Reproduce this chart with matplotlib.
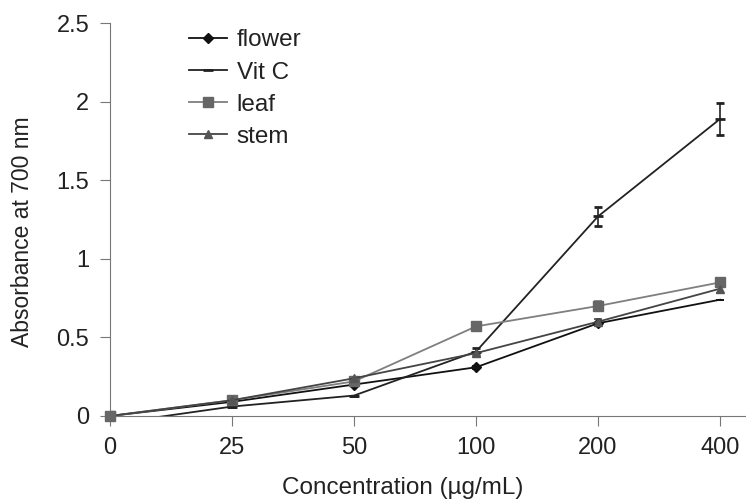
import numpy as np
import matplotlib
matplotlib.use("Agg")
import matplotlib.pyplot as plt
from matplotlib.lines import Line2D

plt.rcParams.update({"font.family": "Liberation Sans", "font.size": 16})

conc = ["0", "25", "50", "100", "200", "400"]
flower = [0.0, 0.09, 0.20, 0.31, 0.59, 0.74]
flower_err = [0.0, 0.0, 0.0, 0.01, 0.0, 0.0]
vitc = [-0.05, 0.06, 0.13, 0.41, 1.27, 1.89]
vitc_err = [0.0, 0.0, 0.0, 0.02, 0.06, 0.10]
leaf = [0.0, 0.10, 0.22, 0.57, 0.70, 0.85]
leaf_err = [0.0, 0.0, 0.0, 0.0, 0.03, 0.03]
stem = [0.0, 0.10, 0.24, 0.40, 0.60, 0.81]
stem_err = [0.0, 0.0, 0.0, 0.0, 0.02, 0.03]

x = np.arange(len(conc))
fig = plt.figure(figsize=(7.46, 5.03), dpi=100)
ax = fig.add_axes([0.1475, 0.173, 0.852, 0.781])

style = dict(capsize=3, elinewidth=1.2, capthick=1.2, lw=1.3)
series = [
    ("flower", flower, flower_err, dict(color="#111111", marker="D", ms=5,
                                        markevery=[0, 1, 2, 3, 4])),
    ("Vit C", vitc, vitc_err, dict(color="#222222", marker="_", ms=7, mew=2)),
    ("leaf", leaf, leaf_err, dict(color="#7f7f7f", marker="s", ms=7,
                                  mfc="#666666", mec="#666666")),
    ("stem", stem, stem_err, dict(color="#444444", marker="^", ms=6,
                                  mfc="#555555", mec="#555555")),
]
handles = []
for name, vals, err, kw in series:
    ax.errorbar(x, vals, yerr=err, **kw, **style)
    kw2 = {k: v for k, v in kw.items() if k != "markevery"}
    handles.append(Line2D([], [], lw=1.3, label=name, **kw2))
# marker at the origin sits on the axis
ax.plot([0], [0], marker="s", ms=7, color="#666666", clip_on=False, zorder=5)

ax.set_xlim(0, 5.21)
ax.set_ylim(0, 2.5)
ax.set_xticks(x)
ax.set_xticklabels(conc)
ax.set_yticks([0, 0.5, 1, 1.5, 2, 2.5])
ax.set_yticklabels(["0", "0.5", "1", "1.5", "2", "2.5"])
for s in ["top", "right"]:
    ax.spines[s].set_visible(False)
for s in ["left", "bottom"]:
    ax.spines[s].set_color("#777777")
ax.tick_params(direction="out", length=7, color="#777777", labelcolor="#222222",
               labelsize=17, pad=8)
ax.set_xlabel("Concentration (µg/mL)", color="#222222", fontsize=17.5)
ax.set_ylabel("Absorbance at 700 nm", color="#222222", fontsize=16.5)
ax.xaxis.set_label_coords(0.46, -0.155)
ax.yaxis.set_label_coords(-0.12, 0.468)

leg = ax.legend(handles=handles, loc="upper left", bbox_to_anchor=(0.09, 1.04),
                frameon=False, handlelength=1.55, handletextpad=0.4,
                labelspacing=0.42, fontsize=17.5)
for t in leg.get_texts():
    t.set_color("#222222")

fig.savefig("out.png", dpi=100)
